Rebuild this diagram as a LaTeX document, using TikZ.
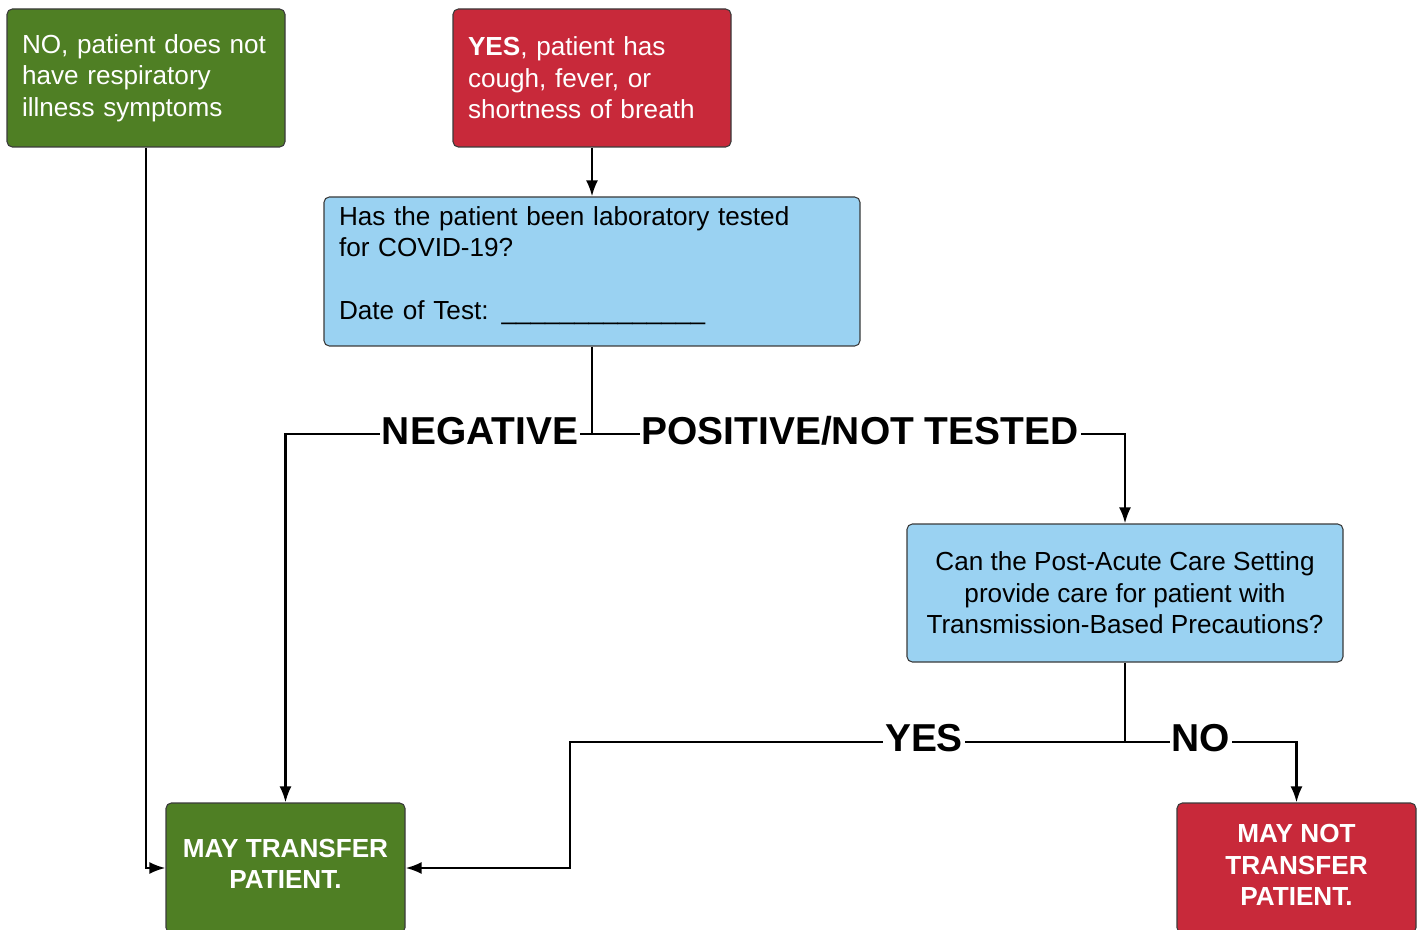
\documentclass[tikz,border=0pt]{standalone}
\usepackage{fontspec}
\setmainfont{Liberation Sans}
\usetikzlibrary{arrows.meta}
\definecolor{boxgreen}{HTML}{4F7F24}
\definecolor{boxred}{HTML}{C8293A}
\definecolor{boxblue}{HTML}{9AD2F2}
\definecolor{boxline}{HTML}{3A3A3A}
\tikzset{
  box/.style={draw=boxline, line width=0.8pt, rounded corners=4pt, inner sep=0pt},
  bodytext/.style={font=\fontsize{19.6}{23.6}\selectfont},
  boldtext/.style={font=\bfseries\fontsize{19.6}{23.8}\selectfont},
  leftbox/.style={box, bodytext, align=left, inner xsep=11.25pt},
  conn/.style={line width=1.8pt, -{Latex[length=12pt,width=9pt]}},
  plain/.style={line width=1.8pt},
  lbl/.style={fill=white, inner xsep=1.5pt, inner ysep=1pt, font=\bfseries\fontsize{29.2}{31}\selectfont, anchor=base}
}
\begin{document}
\begin{tikzpicture}[x=0.75pt,y=-0.75pt]
\useasboundingbox (0,0) rectangle (1420,930);
\clip (0,0) rectangle (1420,930);

% boxes
\node[leftbox, fill=boxgreen, text=white, text width=186pt, minimum height=103.5pt] (nobox) at (146,78)
  {NO, patient does not\\have respiratory\\illness symptoms};
\node[leftbox, fill=boxred, text=white, text width=186pt, minimum height=103.5pt] (yesbox) at (592,78)
  {\textbf{YES}, patient has\\cough, fever, or\\shortness of breath};
\node[leftbox, fill=boxblue, text=black, text width=379.5pt, minimum height=111.75pt] (blue1) at (592,271.5)
  {Has the patient been laboratory tested\\for COVID-19?\\[23.6pt]Date of Test: \_\_\_\_\_\_\_\_\_\_\_\_\_\_\\[-10.5pt]\mbox{}};
\node[box, bodytext, fill=boxblue, text=black, align=center, minimum width=327pt, minimum height=103.5pt] (blue2) at (1125,593)
  {Can the Post-Acute Care Setting\\provide care for patient with\\Transmission-Based Precautions?};
\node[box, fill=boxgreen, minimum width=179.25pt, minimum height=97.5pt] (maytr) at (285.5,868) {};
\node[boldtext, text=white, align=center] (maytrtext) at (285.5,864) {MAY TRANSFER\\PATIENT.};
\node[box, fill=boxred, minimum width=179.25pt, minimum height=97.5pt] (maynot) at (1296.5,868) {};
\node[boldtext, text=white, align=center] (maynottext) at (1296.5,865) {MAY NOT\\TRANSFER\\PATIENT.};

% junctions
\coordinate (j1) at (592,434);
\coordinate (j2) at (1125,742);
\coordinate (j3) at (570,742);

% connectors
\draw[conn] (nobox.south) |- (maytr.west);
\draw[conn] (yesbox.south) -- (blue1.north);
\draw[plain] (blue1.south) -- (j1);
\draw[conn] (j1) -| (maytr.north);
\draw[conn] (j1) -| (blue2.north);
\draw[plain] (blue2.south) -- (j2);
\draw[conn] (j2) -- (j3) |- (maytr.east);
\draw[conn] (j2) -| (maynot.north);

% labels
\node[lbl] (negl) at (480,444) {NEGATIVE};
\node[lbl] (posl) at (860,444) {POSITIVE/NOT TESTED};
\node[lbl] (yesl) at (924,751) {YES};
\node[lbl] (nol) at (1201,751) {NO};
\end{tikzpicture}
\end{document}
